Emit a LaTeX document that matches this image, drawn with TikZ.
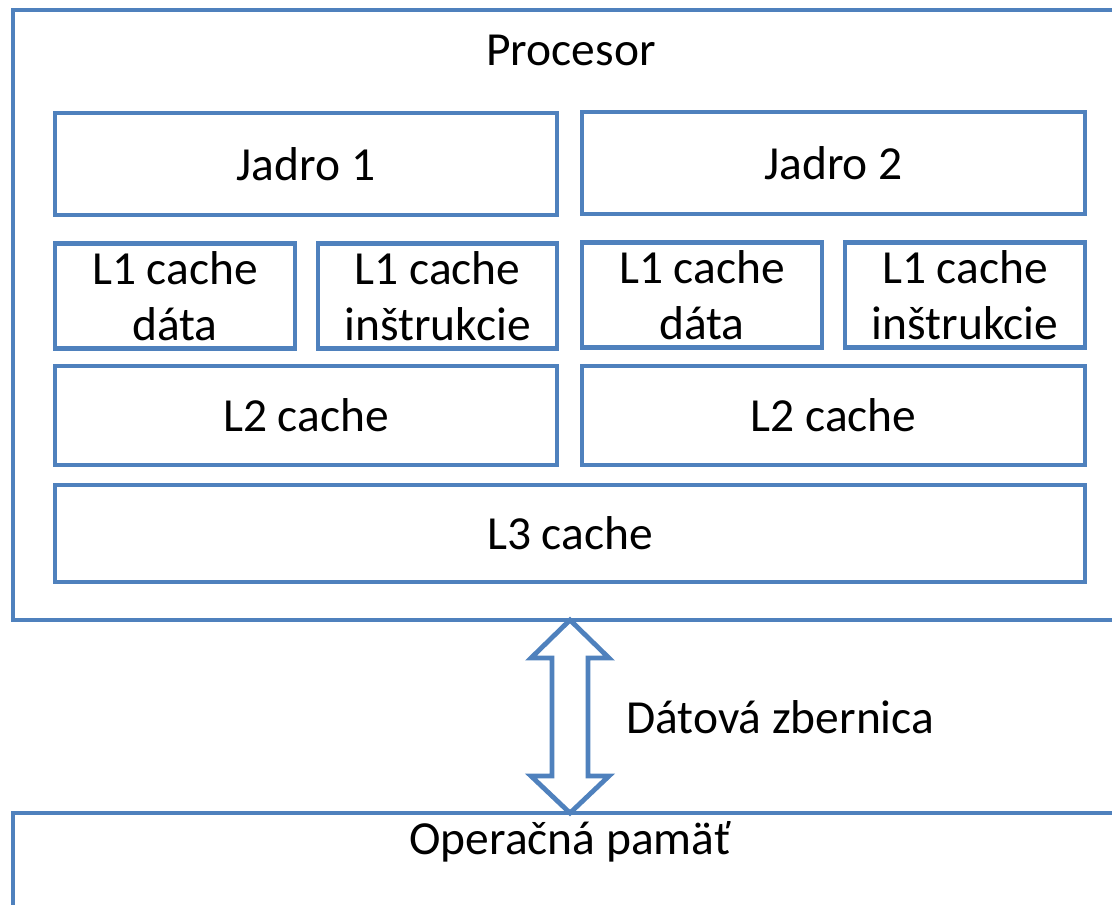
\documentclass[tikz,border=0pt]{standalone}
\usepackage{fontspec}
\setmainfont{Carlito}
\usetikzlibrary{calc}
\definecolor{obl}{HTML}{4F81BD}
\begin{document}
\begin{tikzpicture}[x=0.75pt,y=-0.75pt,
  bx/.style={draw=obl,line width=3.6pt,fill=white,inner sep=0pt,font=\fontsize{35.6}{42}\selectfont,align=center},
  txt/.style={inner sep=0pt,font=\fontsize{35.6}{42}\selectfont}]
\useasboundingbox (0,0) rectangle (1112,905);
\clip (0,0) rectangle (1112,905);
% outer boxes
\draw[draw=obl,line width=3.6pt] (13,10) rectangle (1140,620);
\node[txt] (proc) at (571,50) {Procesor};
\draw[draw=obl,line width=3.6pt] (13,813) rectangle (1140,960);
\node[txt] (mem) at (570,842) {Operačná pamäť};
% cores
\node[bx,minimum width=502*0.75pt,minimum height=102*0.75pt] (j1) at (306,164) {Jadro 1};
\node[bx,minimum width=503*0.75pt,minimum height=102*0.75pt] (j2) at (833.5,163) {Jadro 2};
% L1
\node[bx,minimum width=240*0.75pt,minimum height=105*0.75pt] (l1d1) at (175,296) {L1 cache\\dáta};
\node[bx,minimum width=239*0.75pt,minimum height=105*0.75pt] (l1i1) at (437.5,296) {L1 cache\\inštrukcie};
\node[bx,minimum width=240*0.75pt,minimum height=105*0.75pt] (l1d2) at (702,295) {L1 cache\\dáta};
\node[bx,minimum width=240*0.75pt,minimum height=105*0.75pt] (l1i2) at (965,295) {L1 cache\\inštrukcie};
% L2
\node[bx,minimum width=502*0.75pt,minimum height=99*0.75pt] (l2a) at (306,415.5) {L2 cache};
\node[bx,minimum width=503*0.75pt,minimum height=99*0.75pt] (l2b) at (833.5,415.5) {L2 cache};
% L3
\node[bx,minimum width=1030*0.75pt,minimum height=97*0.75pt] (l3) at (570,533.5) {L3 cache};
% bus arrow
\coordinate (bt) at (570,620);
\coordinate (bb) at (570,813);
\draw[draw=obl,line width=3.6pt,fill=white,line join=miter]
  (bt) -- ($(bt)+(39,38)$) -- ($(bt)+(18,38)$) -- ($(bb)+(18,-37)$) -- ($(bb)+(39,-37)$)
  -- (bb) -- ($(bb)+(-39,-37)$) -- ($(bb)+(-18,-37)$) -- ($(bt)+(-18,38)$) -- ($(bt)+(-39,38)$) -- cycle;
\node[txt,anchor=west] (bus) at (626,717) {Dátová zbernica};
\end{tikzpicture}
\end{document}
